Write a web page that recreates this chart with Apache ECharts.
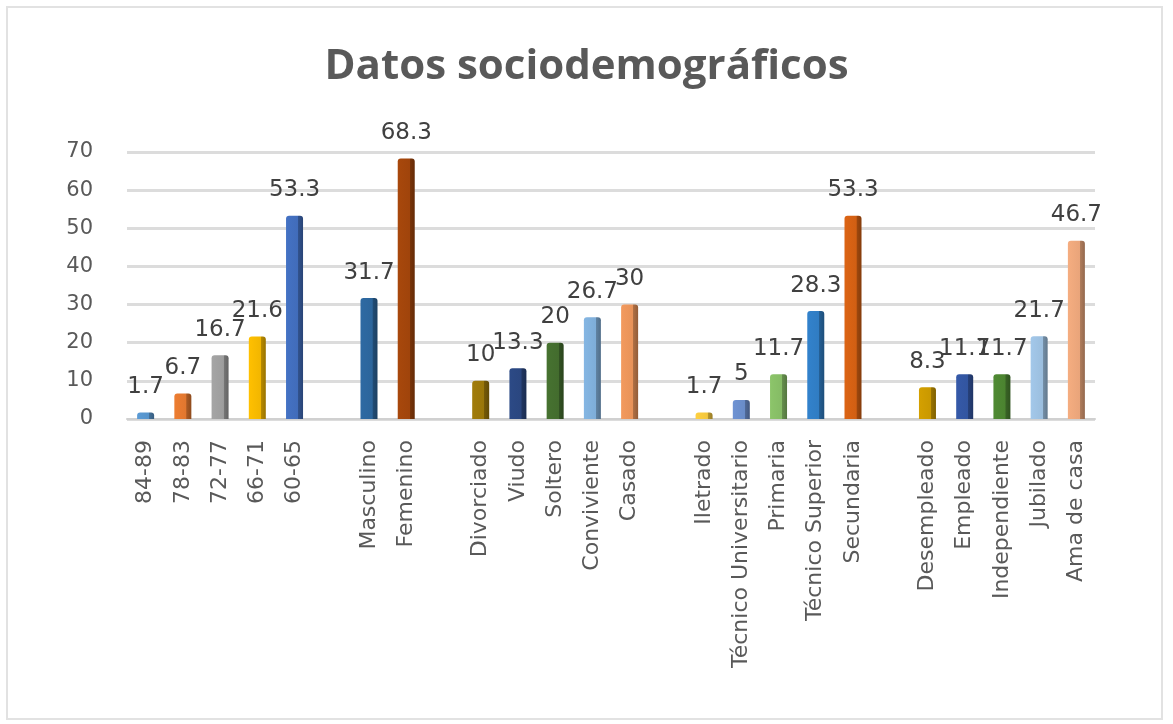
<!DOCTYPE html>
<html>
<head>
<meta charset="utf-8">
<script src="https://cdn.jsdelivr.net/npm/echarts@6/dist/echarts.min.js"></script>
<style>
  html, body { margin: 0; padding: 0; background: #fff; }
  #frame {
    position: absolute; left: 6px; top: 6px;
    width: 1153px; height: 710px;
    border: 2px solid #e2e2e2;
  }
  #chart { position: absolute; left: 0; top: 0; width: 1173px; height: 724px; }
</style>
</head>
<body>
<div id="frame"></div>
<div id="chart"></div>
<script>
// data
var ageCats = ['84-89', '78-83', '72-77', '66-71', '60-65'];
var ageVals = [1.7, 6.7, 16.7, 21.6, 53.3];
var sexCats = ['Masculino', 'Femenino'];
var sexVals = [31.7, 68.3];
var civilCats = ['Divorciado', 'Viudo', 'Soltero', 'Conviviente', 'Casado'];
var civilVals = [10, 13.3, 20, 26.7, 30];
var eduCats = ['Iletrado', 'Técnico Universitario', 'Primaria', 'Técnico Superior', 'Secundaria'];
var eduVals = [1.7, 5, 11.7, 28.3, 53.3];
var jobCats = ['Desempleado', 'Empleado', 'Independiente', 'Jubilado', 'Ama de casa'];
var jobVals = [8.3, 11.7, 11.7, 21.7, 46.7];
var yMin = 0, yMax = 70, yStep = 10;

// bar colours, one list per group
var ageColors = ['#5b9bd5', '#ed7d31', '#a5a5a5', '#ffc000', '#4472c4'];
var sexColors = ['#2e6aa3', '#a8480c'];
var civilColors = ['#a17c0a', '#2c4a86', '#467230', '#85b6e3', '#f39a5e'];
var eduColors = ['#ffd040', '#6f93d3', '#8cc56a', '#3282cc', '#dc6414'];
var jobColors = ['#d4a000', '#3559a8', '#4f8a33', '#a3c8ea', '#f5ad80'];

function shade(hex, f) {
  var n = parseInt(hex.slice(1), 16);
  var r = (n >> 16) & 255, g = (n >> 8) & 255, b = n & 255;
  r = Math.round(r * f); g = Math.round(g * f); b = Math.round(b * f);
  return 'rgb(' + r + ',' + g + ',' + b + ')';
}

var groups = [
  [ageCats, ageVals, ageColors],
  [sexCats, sexVals, sexColors],
  [civilCats, civilVals, civilColors],
  [eduCats, eduVals, eduColors],
  [jobCats, jobVals, jobColors]
];

var categories = [];
var barData = [];
groups.forEach(function (g, gi) {
  if (gi > 0) {
    // empty slot between groups
    categories.push(new Array(gi + 1).join(' '));
    barData.push('-');
  }
  g[0].forEach(function (name, i) {
    categories.push(name);
    var c = g[2][i];
    barData.push({
      value: g[1][i],
      itemStyle: {
        borderRadius: [3, 3, 0, 0],
        color: {
          type: 'linear', x: 0, y: 0, x2: 1, y2: 0,
          colorStops: [
            { offset: 0, color: shade(c, 1.0) },
            { offset: 0.7, color: shade(c, 0.95) },
            { offset: 0.72, color: shade(c, 0.72) },
            { offset: 1, color: shade(c, 0.6) }
          ]
        }
      }
    });
  });
});

var chart = echarts.init(document.getElementById('chart'));
chart.setOption({
  animation: false,
  title: {
    text: 'Datos sociodemográficos',
    left: 'center',
    top: 41,
    textStyle: {
      color: '#595959',
      fontSize: 42,
      fontWeight: 'bold',
      fontFamily: 'Open Sans'
    }
  },
  grid: {
    left: 127,
    right: 78,
    top: 152,
    bottom: 305
  },
  xAxis: {
    type: 'category',
    data: categories,
    axisTick: { show: false },
    axisLine: { lineStyle: { color: '#d0d0d0', width: 2 } },
    axisLabel: {
      interval: 0,
      rotate: 90,
      margin: 21,
      color: '#595959',
      fontSize: 22,
      fontFamily: 'DejaVu Sans'
    }
  },
  yAxis: {
    type: 'value',
    min: yMin,
    max: yMax,
    interval: yStep,
    axisLine: { show: false },
    axisTick: { show: false },
    axisLabel: {
      color: '#595959',
      fontSize: 21,
      margin: 34,
      fontFamily: 'DejaVu Sans'
    },
    splitLine: { lineStyle: { color: '#dcdcdc', width: 3 } }
  },
  series: [{
    type: 'bar',
    data: barData,
    barWidth: 17,
    label: {
      show: true,
      position: 'top',
      distance: 14,
      color: '#404040',
      fontSize: 23,
      fontFamily: 'DejaVu Sans'
    }
  }]
});
</script>
</body>
</html>
